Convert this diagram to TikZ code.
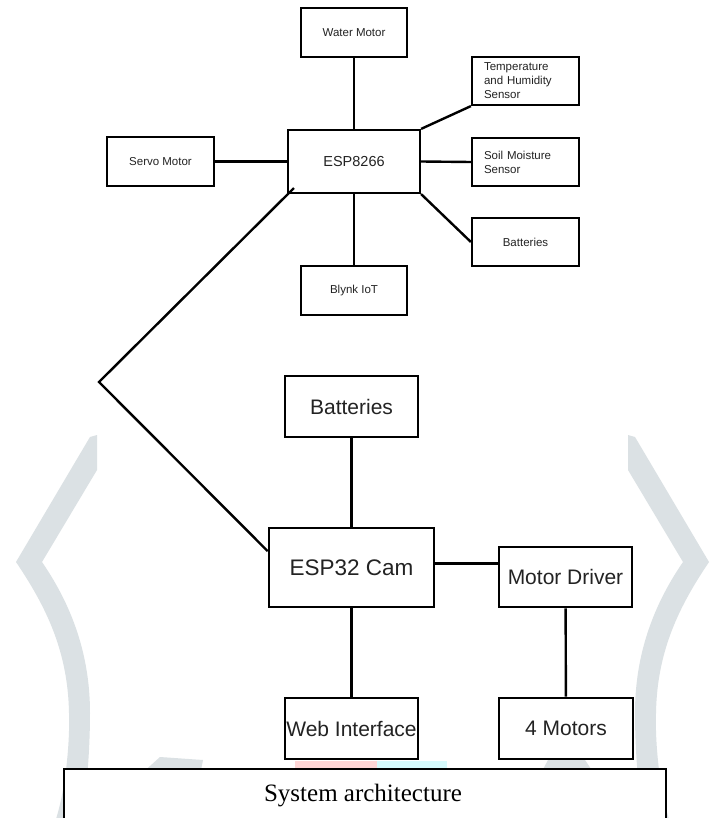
\documentclass[tikz,border=0pt]{standalone}
\usepackage{fontspec}
\setmainfont{Liberation Serif}
\newfontfamily\diagfont{Liberation Sans}
\usetikzlibrary{calc}
\definecolor{txtgray}{RGB}{35,35,35}
\definecolor{wmgray}{RGB}{219,225,228}
\definecolor{wmpink}{RGB}{255,214,214}
\definecolor{wmcyan}{RGB}{214,250,252}
\tikzset{
  smallbox/.style={draw, line width=2.2pt, minimum width=106pt, minimum height=49pt,
    inner sep=0pt, text=txtgray, font=\diagfont\fontsize{11.5}{14}\selectfont},
  sensorbox/.style={smallbox, minimum width=107pt, minimum height=48pt, text width=83pt,
    align=left, inner xsep=12pt},
  bigbox/.style={draw, line width=2.6pt, minimum width=133pt, minimum height=61pt,
    inner sep=0pt, text=txtgray, font=\diagfont\fontsize{21}{25}\selectfont},
  link/.style={line width=2.4pt}
}
\begin{document}
\begin{tikzpicture}[x=1pt,y=-1pt]
\useasboundingbox (0,0) rectangle (715,818);
\fill [white] (0,0) rectangle (715,818);
% watermark behind the figure
\fill [wmgray] (90,437) -- (97,435) -- (97,470) -- (42,562) .. controls (75,610) and (90,660) .. (90,713)
  .. controls (90,740) and (88,790) .. (80,822) -- (55,822) .. controls (66,790) and (70,740) .. (69,713)
  .. controls (68,650) and (45,605) .. (16,562) -- cycle;
\fill [wmgray] (635,437) -- (628,435) -- (628,470) -- (683,562) .. controls (650,610) and (635,660) .. (635,713)
  .. controls (635,740) and (637,790) .. (645,822) -- (670,822) .. controls (659,790) and (655,740) .. (656,713)
  .. controls (657,650) and (680,605) .. (709,562) -- cycle;
\fill [wmgray] (140,775) -- (160,757) -- (203,760) -- (200,775) -- cycle;
\fill [wmgray] (540,775) -- (548,760) -- (585,760) -- (595,775) -- cycle;
\fill [wmpink] (295,761) rectangle (377,775);
\fill [wmcyan] (377,761) rectangle (447,775);

% ESP8266 side
\node [smallbox] (water) at (354,32.5) {Water Motor};
\node [smallbox, minimum width=132pt, minimum height=63pt,
  font=\diagfont\fontsize{14.5}{17}\selectfont] (esp) at (354,161.5) {ESP8266};
\node [smallbox, minimum width=107pt] (servo) at (160.5,161.5) {Servo Motor};
\node [smallbox] (blynk) at (354,290.5) {Blynk IoT};
\node [sensorbox] (temp) at (525.5,81) {Temperature\\and Humidity\\Sensor};
\node [sensorbox] (soil) at (525.5,162) {Soil Moisture\\Sensor};
\node [smallbox, minimum width=107pt, minimum height=48pt] (batt) at (525.5,242) {Batteries};
\draw [link] (water) -- (esp);
\draw [link] (servo) -- (esp);
\draw [link] (esp.north east) -- (temp.south west);
\draw [link] (esp.east) -- (soil.west);
\draw [link] (esp.south east) -- (batt.west);
\draw [link] (esp) -- (blynk);

% ESP32 side
\node [bigbox] (camBatt) at (351.5,406.5) {Batteries};
\node [bigbox, minimum width=165pt, minimum height=79pt,
  font=\diagfont\fontsize{22.5}{26}\selectfont] (cam) at (351.5,567.5) {ESP32 Cam};
\node [bigbox, minimum height=60pt] (driver) at (565.5,577) {Motor Driver};
\node [bigbox] (web) at (351.5,728.5) {Web Interface};
\node [bigbox, minimum width=134pt] (motors) at (566,728.5) {4 Motors};
\coordinate (camR) at ($(cam.east)+(0,-4)$);
\draw [link] (camBatt) -- (cam);
\draw [link] (camR) -- (camR -| driver.west);
\draw [link] (cam) -- (web);
\draw [link] (driver) -- (motors);

\coordinate (bend) at (99,382);
\draw [link, line join=miter] ($(esp.south west)+(7,-6)$) -- (bend)
  -- ($(cam.north west)!.3!(cam.south west)$);

% caption
\draw [fill=white, line width=1.3pt] (64,769) rectangle (666,825);
\node [font=\fontsize{25}{30}\selectfont] (caption) at (363,796) {System architecture};
\end{tikzpicture}
\end{document}
